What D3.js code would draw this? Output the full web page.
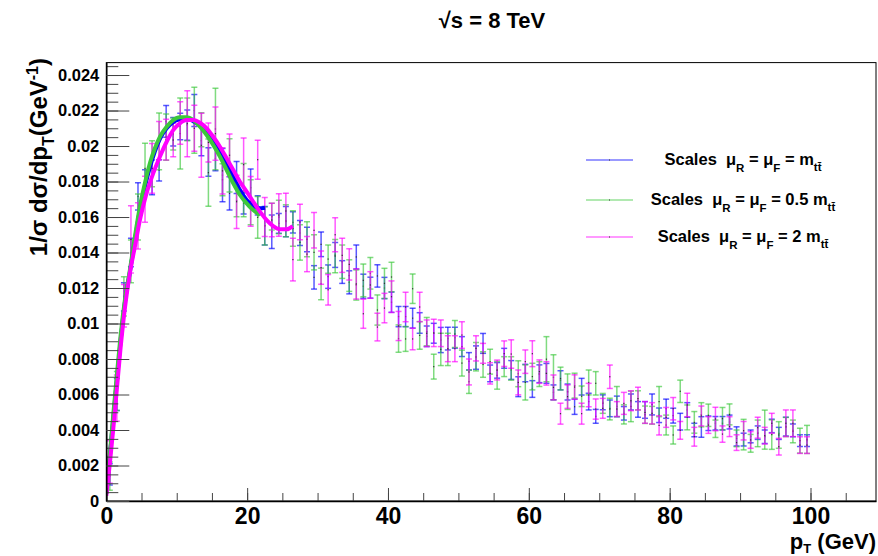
<!DOCTYPE html>
<html>
<head>
<meta charset="utf-8">
<script src="https://cdn.jsdelivr.net/npm/d3@7"></script>
<style>
  body { margin: 0; background: #fff; }
  svg { display: block; }
  text { font-family: "Liberation Sans", Arial, Helvetica, sans-serif; font-weight: bold; }
</style>
</head>
<body>
<div id="chart"></div>
<script>
// bin centres (1 GeV bins from 0 to 100)
const binCenters = d3.range(0.5, 100, 1);

// scales muR = muF = m_tt (blue)
const blueVal = [0.0015,0.0060,0.0115,0.0140,0.01716,0.0180,0.01823,0.01863,0.02139,0.0208,
  0.0211,0.02118,0.0220,0.0203,0.0191,0.0193,0.01836,0.01733,0.01823,0.01677,
  0.01765,0.01666,0.01551,0.01517,0.01564,0.01574,0.0157,0.0151,0.01474,0.0126,
  0.01446,0.01264,0.01386,0.0129,0.01232,0.01375,0.0121,0.01202,0.01268,0.0120,
  0.0112,0.01039,0.01039,0.0103,0.01003,0.00928,0.00945,0.00907,0.00915,0.0092,
  0.0087,0.00787,0.00808,0.00888,0.00719,0.00736,0.00804,0.00738,0.00644,0.00721,
  0.00631,0.00717,0.00719,0.00612,0.0068,0.00614,0.00531,0.00644,0.0056,0.00477,
  0.00556,0.00522,0.00533,0.00494,0.00558,0.00516,0.00513,0.00544,0.00483,0.0052,
  0.00481,0.00447,0.00513,0.0040,0.00417,0.00438,0.00438,0.00438,0.00445,0.00364,
  0.00346,0.00364,0.00385,0.00362,0.00423,0.00381,0.00419,0.00398,0.0034,0.0034];
const blueErr = [0.0006,0.0009,0.0008,0.0008,0.00077,0.00066,0.00098,0.0006,0.0009,0.0008,
  0.00075,0.00085,0.0009,0.00085,0.0008,0.0007,0.0015,0.00094,0.0009,0.0006,
  0.00106,0.00054,0.00108,0.00094,0.00056,0.00085,0.0006,0.0007,0.00069,0.00066,
  0.00069,0.00066,0.0007,0.00064,0.00065,0.00068,0.00068,0.00059,0.00063,0.0006,
  0.00057,0.00057,0.00057,0.00056,0.00058,0.00058,0.00056,0.00071,0.00064,0.00059,
  0.00056,0.00049,0.00066,0.00056,0.00047,0.00044,0.00056,0.00053,0.00056,0.00049,
  0.00047,0.0005,0.00056,0.00042,0.00054,0.00045,0.00043,0.00047,0.00047,0.00039,
  0.00042,0.00047,0.00058,0.00038,0.00045,0.00044,0.00047,0.00059,0.00041,0.00054,
  0.00042,0.00047,0.00041,0.00038,0.00058,0.00041,0.00038,0.00038,0.00039,0.00054,
  0.00036,0.00036,0.00038,0.00038,0.00038,0.00034,0.00053,0.00036,0.00033,0.00033];

// scales muR = muF = 0.5 m_tt (green)
const greenVal = [0.0014,0.0062,0.01153,0.0135,0.0160,0.01874,0.0190,0.02026,0.0205,0.02068,
  0.0207,0.0215,0.02145,0.02092,0.0185,0.02096,0.0181,0.01891,0.01692,0.01752,
  0.01683,0.01598,0.0155,0.01602,0.0160,0.01579,0.01535,0.01457,0.01475,0.01401,
  0.01223,0.01363,0.0138,0.01348,0.0127,0.01217,0.01243,0.01283,0.01076,0.01226,
  0.01262,0.00915,0.00913,0.01196,0.00933,0.00954,0.00757,0.00854,0.00854,0.00941,
  0.00777,0.00672,0.00813,0.00769,0.00785,0.00708,0.00757,0.00747,0.00717,0.00668,
  0.00701,0.00715,0.00799,0.00697,0.0069,0.00616,0.0065,0.0059,0.00668,0.00663,
  0.0055,0.00518,0.0056,0.00488,0.00533,0.00567,0.00486,0.00483,0.0056,0.00428,
  0.00372,0.00618,0.00471,0.00443,0.00486,0.00483,0.00407,0.00464,0.00488,0.00353,
  0.00374,0.00325,0.00381,0.00402,0.00374,0.00372,0.00417,0.00392,0.0034,0.00347];
const greenErr = [0.0008,0.0011,0.0011,0.0012,0.0013,0.00141,0.0013,0.0016,0.0013,0.0009,
  0.002,0.0012,0.00186,0.00096,0.0019,0.0023,0.0009,0.0015,0.0009,0.0015,
  0.00127,0.00117,0.00108,0.00075,0.00094,0.0009,0.001,0.001,0.00099,0.00099,
  0.00089,0.0008,0.00094,0.00094,0.00089,0.00085,0.00092,0.00089,0.00085,0.00085,
  0.00083,0.00077,0.0007,0.00083,0.00078,0.0008,0.0007,0.00091,0.00091,0.00076,
  0.00073,0.00066,0.0008,0.00072,0.0007,0.00078,0.00056,0.00066,0.00073,0.00099,
  0.00075,0.0007,0.00127,0.00127,0.00064,0.001,0.0007,0.00058,0.0007,0.00066,
  0.00056,0.00061,0.00085,0.00054,0.00086,0.00054,0.00049,0.0005,0.00085,0.00056,
  0.00051,0.00063,0.0007,0.00061,0.00068,0.00063,0.00049,0.00063,0.00059,0.00047,
  0.00086,0.0005,0.00075,0.0011,0.00083,0.00075,0.00054,0.00064,0.0007,0.00079];

// scales muR = muF = 2 m_tt (magenta)
const magVal = [0.0022,0.0058,0.0110,0.01474,0.0155,0.0170,0.01874,0.0203,0.02036,0.02034,
  0.0213,0.02126,0.0210,0.02004,0.0202,0.0207,0.0186,0.01948,0.01686,0.01895,
  0.01688,0.01923,0.0160,0.01583,0.01611,0.01634,0.0136,0.01572,0.01391,0.01525,
  0.01315,0.0119,0.015,0.01384,0.01333,0.01223,0.01055,0.01217,0.0098,0.01087,
  0.01151,0.00986,0.01093,0.00913,0.01093,0.00945,0.00947,0.00945,0.00858,0.00858,
  0.00935,0.00727,0.0086,0.00832,0.00719,0.00738,0.0083,0.00828,0.00668,0.00785,
  0.0083,0.00729,0.00719,0.0064,0.00492,0.00588,0.00642,0.00492,0.00597,0.00518,
  0.00522,0.007,0.00518,0.0055,0.00565,0.00577,0.00499,0.00494,0.00426,0.00471,
  0.0052,0.00398,0.00541,0.00362,0.00479,0.00428,0.00462,0.00377,0.00419,0.00329,
  0.00396,0.00344,0.00413,0.00368,0.00438,0.00306,0.00438,0.00438,0.00315,0.00315];
const magErr = [0.0012,0.0013,0.0012,0.0019,0.0013,0.0013,0.0014,0.00108,0.00115,0.00094,
  0.0012,0.00186,0.0013,0.0018,0.0011,0.0015,0.0013,0.0012,0.0015,0.0015,
  0.0014,0.0011,0.0011,0.00094,0.0012,0.001,0.0012,0.001,0.00099,0.001,
  0.00094,0.00086,0.00096,0.00096,0.00088,0.00085,0.00082,0.00075,0.00078,0.00083,
  0.00089,0.00082,0.00083,0.00061,0.00083,0.00075,0.00077,0.00075,0.00073,0.00073,
  0.00075,0.00073,0.00071,0.00056,0.0006,0.00056,0.00072,0.0008,0.0007,0.00066,
  0.00073,0.00066,0.00066,0.0007,0.00059,0.00066,0.00069,0.00059,0.00066,0.00057,
  0.00056,0.00066,0.00042,0.00062,0.00056,0.00064,0.00061,0.0006,0.00054,0.00056,
  0.00063,0.0005,0.00066,0.00053,0.00056,0.00047,0.00066,0.00046,0.00056,0.00044,
  0.00052,0.00047,0.00059,0.00047,0.00056,0.00047,0.00075,0.00075,0.00047,0.00047];

// smooth fitted curves at low pT  [pT, value]
const blueCurve = [[0,0.0004],[0.5,0.0025],[1,0.0047],[1.5,0.0068],[2,0.0089],[2.64,0.0112],
  [3.35,0.0129],[4.06,0.0147],[4.77,0.0164],[5.48,0.0177],[6.19,0.0188],[6.9,0.0197],
  [7.61,0.0204],[8.57,0.0210],[9.5,0.02135],[10.45,0.0215],[11.41,0.02155],[12.34,0.0214],
  [13.3,0.02118],[15.19,0.02024],[17.09,0.01903],[18.03,0.01827],[18.98,0.01752],
  [19.93,0.01696],[20.87,0.01662],[21.82,0.01649],[22.53,0.01652]];
const greenCurve = [[0,0.0004],[0.5,0.0026],[1,0.0049],[1.5,0.0071],[2,0.0092],[2.64,0.01132],
  [3.35,0.01301],[4.06,0.01489],[4.77,0.01658],[5.48,0.0179],[6.19,0.01903],[6.9,0.01987],
  [7.61,0.02052],[8.57,0.02109],[9.5,0.02146],[10.45,0.02162],[11.41,0.02162],[12.34,0.02146],
  [13.3,0.02109],[14.25,0.02062],[15.19,0.02006],[16.14,0.0194],[17.09,0.01865],[18.03,0.0179],
  [18.98,0.01724],[19.93,0.01677],[20.87,0.01639],[21.82,0.01611]];
const magCurve = [[0,0.0003],[0.5,0.0021],[1,0.0041],[1.5,0.0063],[2,0.0085],[2.64,0.01086],
  [3.35,0.01283],[4.06,0.01433],[4.77,0.01583],[5.72,0.01734],[6.66,0.01846],[7.61,0.0194],
  [8.57,0.02024],[9.5,0.0209],[10.45,0.02128],[11.41,0.02146],[12.34,0.02146],[13.3,0.02131],
  [14.25,0.021],[15.19,0.02052],[16.14,0.01996],[17.09,0.01931],[18.03,0.01865],[18.98,0.01799],
  [19.93,0.01743],[20.87,0.01686],[21.82,0.0163],[22.77,0.01583],[23.71,0.01549],[24.66,0.01531],
  [25.61,0.01531],[26.46,0.01549]];

const xTicks = [0, 20, 40, 60, 80, 100];
const yTicks = [0, 0.002, 0.004, 0.006, 0.008, 0.01, 0.012, 0.014, 0.016, 0.018, 0.02, 0.022, 0.024];
const yTickLabels = ["0","0.002","0.004","0.006","0.008","0.01","0.012","0.014","0.016","0.018","0.02","0.022","0.024"];

const legendLabels = [
  { pre: "Scales  \u03bc", mid: " = \u03bc", post: " = m" },
  { pre: "Scales  \u03bc", mid: " = \u03bc", post: " = 0.5 m" },
  { pre: "Scales  \u03bc", mid: " = \u03bc", post: " = 2 m" }
];

const series = [
  { val: blueVal, err: blueErr, curve: blueCurve, color: "#0000ff", legend: legendLabels[0] },
  { val: greenVal, err: greenErr, curve: greenCurve, color: "#3cc83c", legend: legendLabels[1] },
  { val: magVal, err: magErr, curve: magCurve, color: "#ff00ff", legend: legendLabels[2] }
];

const width = 878, height = 556;
const svg = d3.select("#chart").append("svg")
  .attr("width", width)
  .attr("height", height);

let x = d3.scaleLinear().domain([0, 109.3]).range([106.3, 876]);
let y = d3.scaleLinear().domain([0, 0.0247]).range([501, 62.6]);

svg.append("clipPath").attr("id", "plot")
  .append("rect")
  .attr("x", x(0)).attr("y", y(0.0247))
  .attr("width", x(109.3) - x(0)).attr("height", y(0) - y(0.0247));

const plot = svg.append("g").attr("clip-path", "url(#plot)");

// error bars
series.forEach(function (s) {
  let g = plot.append("g")
    .attr("stroke", s.color)
    .attr("stroke-opacity", 0.65);
  binCenters.forEach(function (c, i) {
    let cx = x(c), lo = y(s.val[i] - s.err[i]), hi = y(s.val[i] + s.err[i]);
    g.append("line").attr("x1", cx).attr("x2", cx).attr("y1", lo).attr("y2", hi)
      .attr("stroke-width", 1.5);
    g.append("line").attr("x1", cx - 3).attr("x2", cx + 3).attr("y1", lo).attr("y2", lo)
      .attr("stroke-width", 1.5);
    g.append("line").attr("x1", cx - 3).attr("x2", cx + 3).attr("y1", hi).attr("y2", hi)
      .attr("stroke-width", 1.5);
    g.append("rect").attr("x", cx - 0.6).attr("y", y(s.val[i]) - 0.6)
      .attr("width", 1.2).attr("height", 1.2)
      .attr("fill", "#333").attr("stroke", "none");
  });
});

// fitted curves
const line = d3.line()
  .curve(d3.curveMonotoneX)
  .x(function (d) { return x(d[0]); })
  .y(function (d) { return y(d[1]); });

series.forEach(function (s) {
  plot.append("path")
    .datum(s.curve)
    .attr("fill", "none")
    .attr("stroke", s.color)
    .attr("stroke-width", 4)
    .attr("d", line);
});

// frame
svg.append("rect")
  .attr("x", x(0)).attr("y", y(0.0247))
  .attr("width", x(109.3) - x(0)).attr("height", y(0) - y(0.0247))
  .attr("fill", "none").attr("stroke", "#000").attr("stroke-width", 1);

// x axis
let xMinor = svg.append("g").attr("transform", `translate(0,${y(0)})`)
  .call(d3.axisBottom(x).tickValues(d3.range(0, 110, 5)).tickSizeInner(-8).tickSizeOuter(0).tickFormat(""));
xMinor.select(".domain").remove();
xMinor.selectAll("line").attr("stroke", "#444");

let xAxis = svg.append("g").attr("transform", `translate(0,${y(0)})`)
  .call(d3.axisBottom(x).tickValues(xTicks).tickSizeInner(-13).tickSizeOuter(0).tickPadding(7)
    .tickFormat(function (d) { return d; }));
xAxis.select(".domain").attr("stroke", "#000").attr("stroke-width", 1.5);
xAxis.selectAll("line").attr("stroke", "#444");
xAxis.selectAll("text")
  .attr("fill", "#000")
  .style("font-size", "23px")
  .style("font-family", "'Liberation Sans', Arial, sans-serif")
  .style("font-weight", "bold");

// y axis
let yMinor = svg.append("g").attr("transform", `translate(${x(0)},0)`)
  .call(d3.axisLeft(y).tickValues(d3.range(0, 0.02471, 0.0005)).tickSizeInner(-12).tickSizeOuter(0).tickFormat(""));
yMinor.select(".domain").remove();
yMinor.selectAll("line").attr("stroke", "#444");

let yAxis = svg.append("g").attr("transform", `translate(${x(0)},0)`)
  .call(d3.axisLeft(y).tickValues(yTicks).tickSizeInner(-23).tickSizeOuter(0).tickPadding(7)
    .tickFormat(function (d, i) { return yTickLabels[i]; }));
yAxis.select(".domain").attr("stroke", "#000").attr("stroke-width", 1.5);
yAxis.selectAll("line").attr("stroke", "#444");
yAxis.selectAll("text")
  .attr("fill", "#000")
  .style("font-size", "16.5px")
  .style("font-family", "'Liberation Sans', Arial, sans-serif")
  .style("font-weight", "bold");

// title
svg.append("text")
  .attr("x", 492).attr("y", 28)
  .attr("text-anchor", "middle")
  .style("font-size", "22px")
  .text("\u221as = 8 TeV");

// x axis title
let xt = svg.append("text")
  .attr("x", 876).attr("y", 549)
  .attr("text-anchor", "end")
  .style("font-size", "22px")
  .style("white-space", "pre");
xt.append("tspan").text("p");
xt.append("tspan").attr("dy", 4).style("font-size", "13px").text("T");
xt.append("tspan").attr("dy", -4).text(" (GeV)");

// y axis title
let yt = svg.append("text")
  .attr("transform", "translate(47,58) rotate(-90)")
  .attr("text-anchor", "end")
  .style("font-size", "24px")
  .style("white-space", "pre");
yt.append("tspan").text("1/\u03c3 d\u03c3/dp");
yt.append("tspan").attr("dy", 7).style("font-size", "16px").text("T");
yt.append("tspan").attr("dy", -7).text("(GeV");
yt.append("tspan").attr("dy", -9).style("font-size", "16px").text("-1");
yt.append("tspan").attr("dy", 9).text(")");

// legend
const legendY = [160, 200, 237];
series.forEach(function (s, i) {
  let ly = legendY[i];
  svg.append("line")
    .attr("x1", 586).attr("x2", 633).attr("y1", ly).attr("y2", ly)
    .attr("stroke", s.color).attr("stroke-width", 1.2).attr("stroke-opacity", 0.8);
  svg.append("rect").attr("x", 609).attr("y", ly - 0.5).attr("width", 1).attr("height", 1).attr("fill", "#333");
  let t = svg.append("text")
    .attr("x", 743).attr("y", ly + 5)
    .attr("text-anchor", "middle")
    .style("font-size", "16.5px")
    .style("white-space", "pre");
  t.append("tspan").text(s.legend.pre);
  t.append("tspan").attr("dy", 7).style("font-size", "11.5px").text("R");
  t.append("tspan").attr("dy", -7).text(s.legend.mid);
  t.append("tspan").attr("dy", 7).style("font-size", "11.5px").text("F");
  t.append("tspan").attr("dy", -7).text(s.legend.post);
  t.append("tspan").attr("dy", 6).style("font-size", "11.5px").text("tt\u0304");
});
</script>
</body>
</html>
